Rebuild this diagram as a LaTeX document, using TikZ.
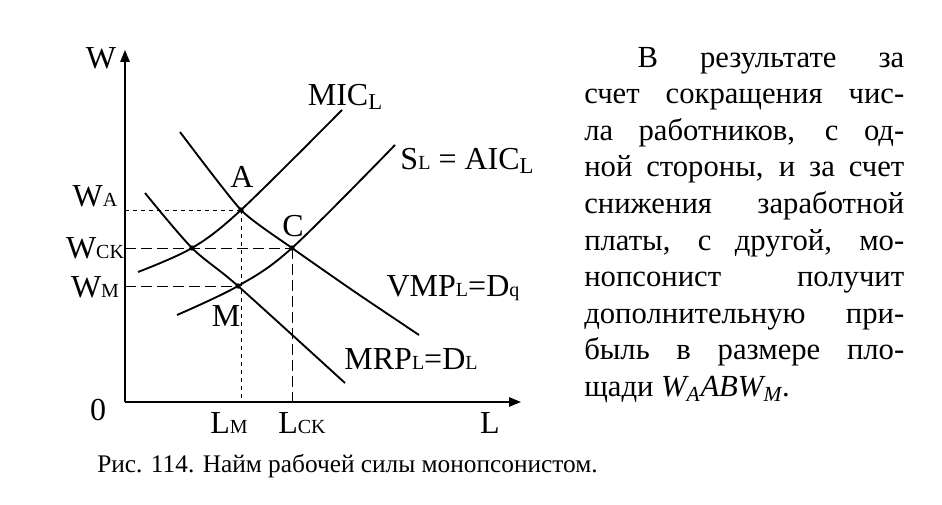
\documentclass[tikz,border=0pt]{standalone}
\usepackage{fontspec}
\setmainfont{Liberation Serif}
\usetikzlibrary{arrows.meta}

\tikzset{
  axis/.style={line width=1.3pt,-{Triangle[length=9pt,width=7pt]}},
  curve/.style={line width=1.4pt},
  guide/.style={line width=0.7pt,dash pattern=on 3pt off 3pt},
  longguide/.style={line width=0.7pt,dash pattern=on 8pt off 4pt},
  lbl/.style={font=\fontsize{24}{24}\selectfont,inner sep=0pt},
  dot/.style={circle,fill,inner sep=0pt,minimum size=4pt},
}
% small letter sitting on the baseline / slightly lowered
\newcommand{\lw}[1]{{\fontsize{15}{15}\selectfont #1}}
\newcommand{\ld}[1]{\raisebox{-3pt}{\fontsize{17}{17}\selectfont #1}}

\begin{document}
\begin{tikzpicture}[x=0.75pt,y=-0.75pt]
    \useasboundingbox (0,0) rectangle (942,505);

    % axes
    \coordinate (O) at (125,402);
    \coordinate (Wtop) at (125,50);
    \coordinate (Lend) at (521,402);
    \draw[axis] (O) -- (Wtop);
    \draw[axis] (O) -- (Lend);

    % equilibrium points
    \coordinate (A) at (241,210);
    \coordinate (C) at (292,248);
    \coordinate (M) at (238,286);
    \coordinate (X) at (192,248);

    \coordinate (WA) at (125,210);
    \coordinate (WCK) at (125,248);
    \coordinate (WM) at (125,286);
    \coordinate (LM) at (239,402);
    \coordinate (LCK) at (292,402);

    \draw[guide] (WA) -- (A);
    \draw[longguide] (WCK) -- (C);
    \draw[longguide] (WM) -- (M);
    \draw[guide] (A) -- (A |- LM);
    \draw[longguide] (C) -- (LCK);

    % curves
    \draw[curve] plot[smooth,tension=0.55] coordinates {(138,272) (X) (A) (342,110)};
    \draw[curve] plot[smooth,tension=0.55] coordinates {(177,315) (M) (C) (395,145)};
    \draw[curve] plot[smooth,tension=0.35] coordinates {(180,132) (A) (C) (355,292) (419,335)};
    \draw[curve] plot[smooth,tension=0.5] coordinates {(145,193) (X) (M) (345,383)};

    \node[dot] (pA) at (A) {};
    \node[dot] (pC) at (C) {};
    \node[dot] (pM) at (M) {};
    \node[dot] (pX) at (X) {};

    % labels
    \node[lbl] (lW) at (101,58) {W};
    \node[lbl] (lWA) at (95,196) {W\lw{A}};
    \node[lbl] (lWCK) at (95,248) {W\lw{CK}};
    \node[lbl] (lWM) at (95,287) {W\lw{M}};
    \node[lbl] (l0) at (98,410) {0};
    \node[lbl] (lLM) at (229,423) {L\lw{M}};
    \node[lbl] (lLCK) at (302,423) {L\lw{CK}};
    \node[lbl] (lL) at (490,423) {L};
    \node[lbl] (lA) at (242,177) {A};
    \node[lbl] (lC) at (293,226) {C};
    \node[lbl] (lM) at (226,316) {M};
    \node[lbl] (lMIC) at (345,97) {MIC\ld{L}};
    \node[lbl] (lS) at (467,161) {S\lw{L} = AIC\ld{L}};
    \node[lbl] (lVMP) at (453,288) {VMP\lw{L}=D\lw{q}};
    \node[lbl] (lMRP) at (411,359) {MRP\lw{L}=D\lw{L}};

    % text
    \node[anchor=north west,text width=240pt,align=justify,inner sep=0pt,
          font=\fontsize{23}{27.4}\selectfont] (txt) at (584,47)
      {\hyphenpenalty=10000\emergencystretch=20pt
       \hspace*{40pt}В результате за\linebreak счет сокращения чис-\linebreak
       ла работников, с од-\linebreak ной стороны, и за счет\linebreak
       снижения заработной\linebreak платы, с другой, мо-\linebreak
       нопсонист получит\linebreak дополнительную при-\linebreak
       быль в размере пло-\linebreak щади \textit{W\textsubscript{A}ABW\textsubscript{M}}.};

    \node[anchor=base west,inner sep=0pt,font=\fontsize{19}{19}\selectfont] (cap) at (97,473)
      {Рис. 114. Найм рабочей силы монопсонистом.};
\end{tikzpicture}
\end{document}
